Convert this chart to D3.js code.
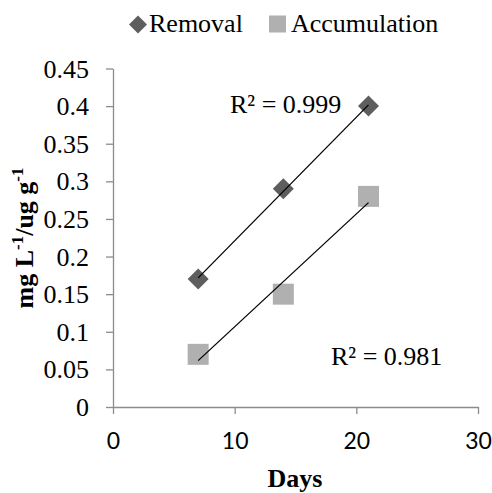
<!DOCTYPE html>
<html><head><meta charset="utf-8">
<script src="https://cdn.jsdelivr.net/npm/d3@7"></script>
<style>body{margin:0;background:#fff}</style>
</head><body>
<svg id="c" width="492" height="493"></svg>
<script>
const days = [7, 14, 21];
const removal = [0.17, 0.29, 0.40];
const accumulation = [0.07, 0.15, 0.28];
const xTicks = [0, 10, 20, 30];
const yTicks = [0, 0.05, 0.1, 0.15, 0.2, 0.25, 0.3, 0.35, 0.4, 0.45];
const r2Labels = ["R² = 0.999", "R² = 0.981"];

const svg = d3.select("#c");
const x = d3.scaleLinear().domain([0, 30]).range([113, 478]);
const y = d3.scaleLinear().domain([0, 0.45]).range([407, 68.5]);
const axisColor = "#8c8c8c";
const serif = "'Liberation Serif', 'Times New Roman', serif";
const sans = "Lato, 'Open Sans', sans-serif";

// axes
const gx = svg.append("g").attr("transform", "translate(0,407)")
  .call(d3.axisBottom(x).tickValues(xTicks).tickSize(7).tickSizeOuter(0).tickPadding(19).tickFormat(d3.format("d")));
const gy = svg.append("g").attr("transform", "translate(113,0)")
  .call(d3.axisLeft(y).tickValues(yTicks).tickSize(7).tickSizeOuter(0).tickPadding(17).tickFormat(d => d === 0 ? "0" : String(+d.toFixed(2))));
[gx, gy].forEach(g => {
  g.attr("font-family", null).attr("font-size", null);
  g.select(".domain").attr("stroke", axisColor).attr("stroke-width", 1.3);
  g.selectAll(".tick line").attr("stroke", axisColor).attr("stroke-width", 1.3);
});
gx.selectAll("text").style("font-family", sans).style("font-size", "23px").attr("fill", "#000");
gy.selectAll("text").style("font-family", serif).style("font-size", "26px").attr("fill", "#000").attr("dy", "0.33em");

// trendlines
function fit(xs, ys) {
  const mx = d3.mean(xs), my = d3.mean(ys);
  const b = d3.sum(xs, (v, i) => (v - mx) * (ys[i] - my)) / d3.sum(xs, v => (v - mx) ** 2);
  return v => my + b * (v - mx);
}

// markers
const remColor = "#5e5e5e", accColor = "#b0b0b0";
svg.append("g").selectAll("path").data(days).join("path")
  .attr("transform", (d, i) => `translate(${x(d)},${y(removal[i])})`)
  .attr("d", "M0,-10.5L10.5,0L0,10.5L-10.5,0Z").attr("fill", remColor);
svg.append("g").selectAll("rect").data(days).join("rect")
  .attr("x", d => x(d) - 10.5).attr("y", (d, i) => y(accumulation[i]) - 10.5)
  .attr("width", 21).attr("height", 21).attr("fill", accColor);

[removal, accumulation].forEach(s => {
  const f = fit(days, s);
  const x0 = d3.min(days), x1 = d3.max(days);
  svg.append("line").attr("x1", x(x0)).attr("y1", y(f(x0))).attr("x2", x(x1)).attr("y2", y(f(x1)))
    .attr("stroke", "#000").attr("stroke-width", 1.3);
});

// trendline labels
const lab = (t, xx, yy) => svg.append("text").attr("x", xx).attr("y", yy)
  .style("font-family", serif).style("font-size", "26px").text(t);
lab(r2Labels[0], 230, 113);
lab(r2Labels[1], 331, 365);

// legend
svg.append("path").attr("transform", "translate(138,24.5)").attr("d", "M0,-9L9,0L0,9L-9,0Z").attr("fill", remColor);
lab("Removal", 149, 32);
svg.append("rect").attr("x", 269).attr("y", 15.5).attr("width", 17).attr("height", 17).attr("fill", accColor);
lab("Accumulation", 291, 32);

// axis titles
svg.append("text").attr("x", 295).attr("y", 487).attr("text-anchor", "middle")
  .style("font-family", serif).style("font-size", "26px").style("font-weight", "bold").text("Days");
const yt = svg.append("text").attr("transform", "translate(33,238) rotate(-90)").attr("text-anchor", "middle")
  .style("font-family", serif).style("font-size", "26px").style("font-weight", "bold");
yt.append("tspan").text("mg L");
yt.append("tspan").attr("dy", -10).style("font-size", "17px").text("-1");
yt.append("tspan").attr("dy", 10).text("/ug g");
yt.append("tspan").attr("dy", -10).style("font-size", "17px").text("-1");
</script>
</body></html>
